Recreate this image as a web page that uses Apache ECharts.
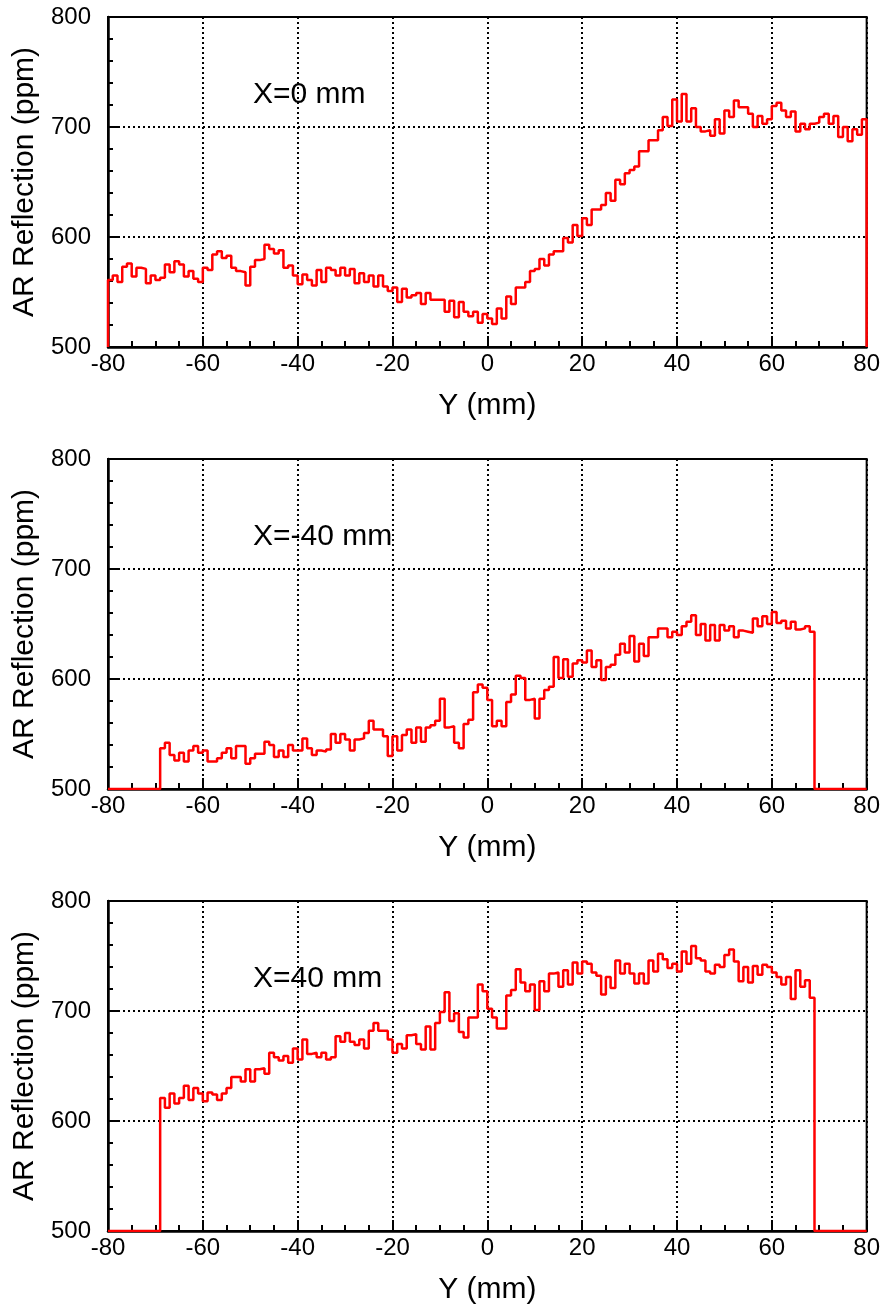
<!DOCTYPE html>
<html><head><meta charset="utf-8">
<script src="https://cdn.jsdelivr.net/npm/echarts@6/dist/echarts.min.js"></script>
<style>html,body{margin:0;padding:0;background:#fff}#c{width:883px;height:1307px}</style>
</head><body><div id="c"></div>
<script>
// Histogram bins: 1 mm wide, from -80 to 80 mm
const binStart = -80;
const binWidth = 1;
const xRange = [-80, 80];
const yRange = [500, 800];
const panelLabels = ['X=0 mm', 'X=-40 mm', 'X=40 mm'];
const xTitle = 'Y (mm)';
const yTitle = 'AR Reflection (ppm)';

// X = 0 mm  (bins -80 .. 79)
const reflX0 = [
  561,565,559,573,576,564,572,571,558,565,561,563,575,568,578,575,564,569,562,559,
  572,570,584,587,581,583,572,569,568,556,573,579,580,593,589,585,588,572,574,565,
  557,566,561,556,570,559,572,570,565,572,565,571,558,567,559,565,555,565,555,551,
  554,541,553,545,547,549,539,549,543,543,543,532,542,527,541,532,528,532,522,530,
  526,521,535,526,546,539,554,554,559,569,571,580,574,584,587,587,599,595,611,601,
  617,611,625,625,629,640,633,652,648,658,661,664,678,678,688,688,697,709,701,725,
  705,730,705,717,700,696,697,692,707,694,715,709,724,718,718,712,700,710,703,707,
  719,722,715,709,714,696,703,698,703,704,709,712,703,710,691,700,687,698,693,707
];
// X = -40 mm
const reflXm40 = [
  0,0,0,0,0,0,0,0,0,0,0,
  537,542,531,526,533,525,535,539,533,535,525,525,528,533,537,528,539,539,523,528,
  532,532,543,540,529,535,529,540,535,
  535,546,537,531,535,534,536,550,542,550,545,535,545,546,551,562,554,554,548,530,
  548,535,549,554,542,556,543,556,558,562,582,556,557,542,537,559,563,588,595,592,
  581,557,562,557,579,586,603,601,581,582,564,582,590,593,620,601,618,602,614,617,
  615,626,611,617,599,611,613,622,632,624,639,616,632,621,638,638,646,646,638,643,
  640,648,652,658,640,650,635,649,635,649,644,648,638,644,643,642,655,648,657,650,
  661,651,653,646,652,645,646,648,643,
  0,0,0,0,0,0,0,0,0,0,0
];
// X = 40 mm
const reflX40 = [
  0,0,0,0,0,0,0,0,0,0,0,
  621,612,625,616,621,632,619,630,625,618,626,624,619,625,630,640,640,636,647,636,
  647,648,643,662,658,655,659,653,666,
  656,674,661,662,658,662,656,658,677,672,680,672,669,674,666,682,689,682,682,674,
  662,670,666,678,679,670,665,686,665,689,699,717,691,698,681,676,694,694,724,718,
  702,694,684,684,714,719,738,726,718,724,701,727,718,734,735,722,737,724,744,734,
  745,743,735,732,715,731,721,746,734,743,734,725,734,725,746,736,752,747,739,743,
  736,754,743,759,748,746,736,734,742,740,751,756,745,727,740,726,741,733,742,740,
  735,731,724,731,711,737,722,728,712,
  0,0,0,0,0,0,0,0,0,0,0
];
const panels = [reflX0, reflXm40, reflX40];

const FONT = '"Liberation Sans", Arial, Helvetica, sans-serif';
const gridTops = [17, 459, 901];
const gridH = 330;

function histPoints(vals) {
  // step outline of a histogram, clamped to the frame's lower edge like ROOT
  const pts = [[binStart, yRange[0]]];
  vals.forEach((v, i) => {
    const lo = binStart + i * binWidth, hi = lo + binWidth;
    const y = Math.max(v, yRange[0]);
    pts.push([lo, y], [hi, y]);
  });
  pts.push([binStart + vals.length * binWidth, yRange[0]]);
  return pts;
}

const grid = [], xAxis = [], yAxis = [], series = [], graphic = [];
panels.forEach((vals, i) => {
  grid.push({left: 108, top: gridTops[i], width: 762, height: gridH,
    show: true, borderColor: '#000', borderWidth: 2, backgroundColor: 'transparent'});
  xAxis.push({
    gridIndex: i, type: 'value', min: xRange[0], max: xRange[1], interval: 20,
    name: xTitle, nameLocation: 'middle', nameGap: 44,
    nameTextStyle: {fontSize: 30, color: '#000', fontFamily: FONT},
    axisLine: {show: true, onZero: false, lineStyle: {color: '#000', width: 2.5}},
    axisTick: {show: true, inside: true, length: 11, lineStyle: {color: '#000', width: 2}},
    minorTick: {show: true, splitNumber: 4, length: 6, lineStyle: {color: '#000', width: 2}},
    splitLine: {show: true, lineStyle: {color: '#000', width: 2, type: [2, 3]}},
    axisLabel: {fontSize: 24, color: '#000', margin: 5, fontFamily: FONT}
  });
  yAxis.push({
    gridIndex: i, type: 'value', min: yRange[0], max: yRange[1], interval: 100,
    name: yTitle, nameLocation: 'middle', nameGap: 67,
    nameTextStyle: {fontSize: 30, color: '#000', fontFamily: FONT},
    axisLine: {show: true, onZero: false, lineStyle: {color: '#000', width: 2.5}},
    axisTick: {show: true, inside: true, length: 11, lineStyle: {color: '#000', width: 2}},
    minorTick: {show: true, splitNumber: 5, length: 5, lineStyle: {color: '#000', width: 2}},
    splitLine: {show: true, lineStyle: {color: '#000', width: 2, type: [2, 3]}},
    axisLabel: {fontSize: 24, color: '#000', margin: 17, fontFamily: FONT}
  });
  series.push({
    type: 'line', xAxisIndex: i, yAxisIndex: i, data: histPoints(vals),
    showSymbol: false, symbol: 'none', animation: false,
    lineStyle: {color: '#ff0000', width: 2.5}, z: 5
  });
  graphic.push({type: 'text', left: 253, top: gridTops[i] + 63,
    style: {text: panelLabels[i], font: '30px ' + FONT, fill: '#000'}});
});

const chart = echarts.init(document.getElementById('c'), null, {renderer: 'canvas'});
chart.setOption({animation: false, backgroundColor: '#fff', grid, xAxis, yAxis, series, graphic});
</script>
</body></html>
